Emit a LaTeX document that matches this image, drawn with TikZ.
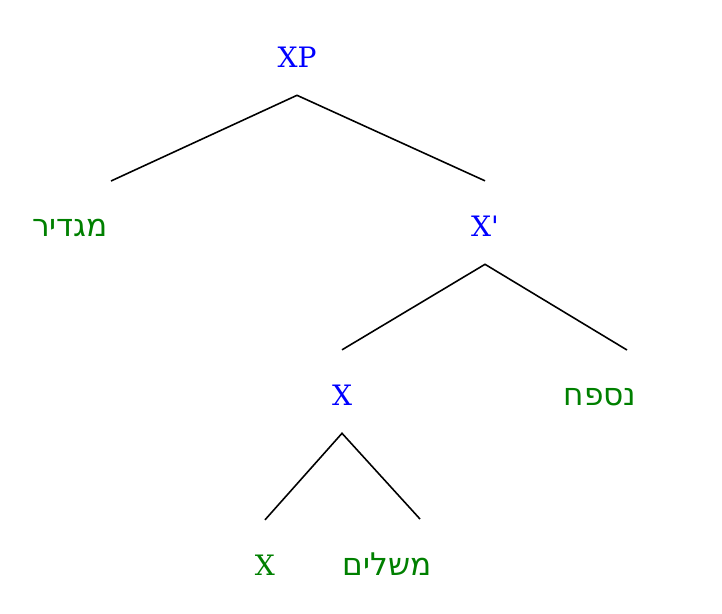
\documentclass[tikz,border=0pt]{standalone}
\usepackage{fontspec}
\setmainfont{DejaVu Serif}
\newfontfamily\hebfont[Script=Hebrew,Scale=1.11]{DejaVu Sans}
\TeXXeTstate=1
\definecolor{catblue}{RGB}{0,0,255}
\definecolor{wordgreen}{RGB}{0,128,0}

\begin{document}
\begin{tikzpicture}[x=0.02cm,y=-0.02cm,
  lbl/.style={font=\fontsize{16}{19}\selectfont,anchor=base,inner sep=0pt,
    text height=31.2pt,text depth=15.9pt},
  cat/.style={lbl,text=catblue},
  word/.style={lbl,text=wordgreen},
  branch/.style={line width=0.9pt}]
\useasboundingbox (0,0) rectangle (722,613);

\node [cat] (xp) at (297,67) {XP};
\node [word] (spec) at (70,236) {\hebfont\beginR מגדיר\endR};
\node [cat] (xbar) at (485,236) {X\textquotesingle};
\node [cat] (head) at (342,405) {X};
\node [word] (adj) at (600,405) {\hebfont\beginR נספח\endR};
\node [word] (x) at (265,575) {X};
\node [word] (comp) at (387,575) {\hebfont\beginR משלים\endR};

\coordinate (spectop) at (111,181);
\coordinate (adjtop) at (627,350);
\coordinate (comptop) at (420,519);

\draw [branch] (spectop) -- (xp.south) -- (xbar.north);
\draw [branch] (head.north) -- (xbar.south) -- (adjtop);
\draw [branch] (x.north) -- (head.south) -- (comptop);
\end{tikzpicture}
\end{document}
